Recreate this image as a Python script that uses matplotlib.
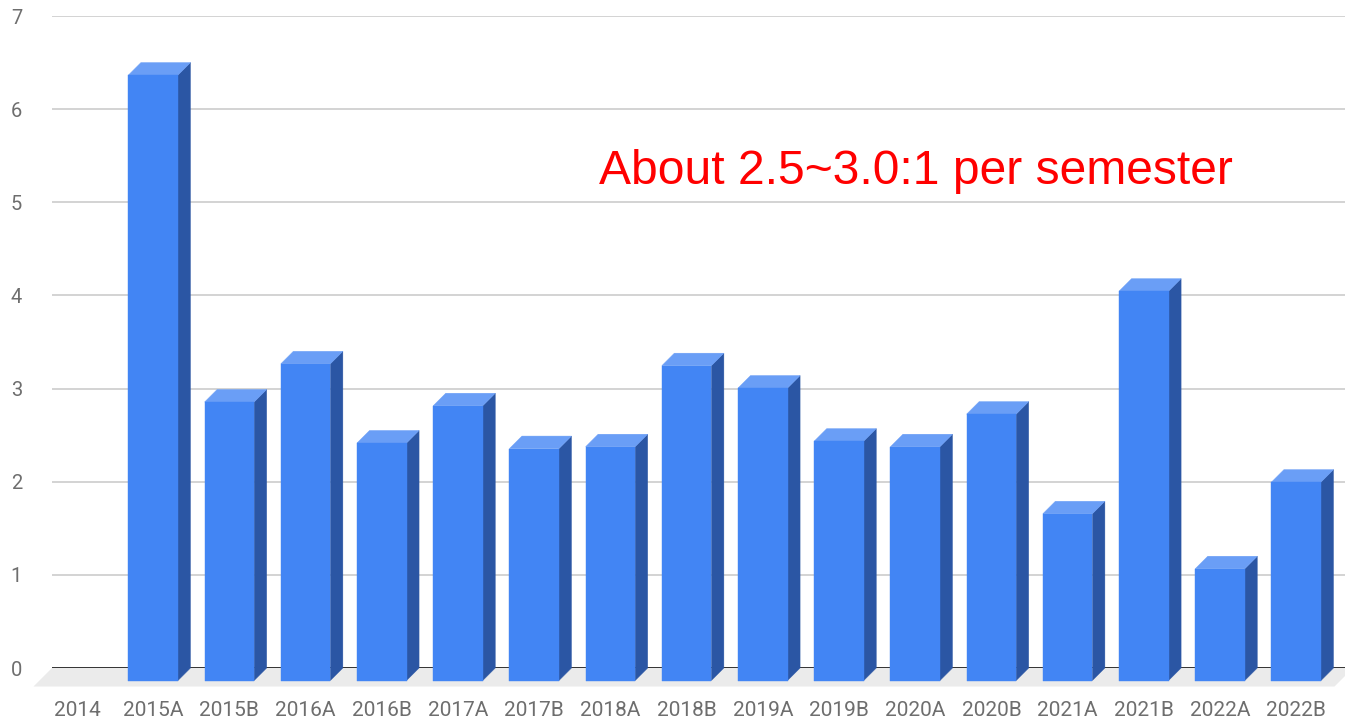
import numpy as np
import matplotlib
matplotlib.use("Agg")
import matplotlib.pyplot as plt
from matplotlib.patches import Polygon

# data
categories = ["2014", "2015A", "2015B", "2016A", "2016B", "2017A", "2017B", "2018A",
              "2018B", "2019A", "2019B", "2020A", "2020B", "2021A", "2021B", "2022A", "2022B"]
values = [np.nan, 6.50, 2.99, 3.40, 2.55, 2.95, 2.49, 2.51,
          3.38, 3.14, 2.57, 2.51, 2.86, 1.79, 4.18, 1.20, 2.13]
yticks = [0, 1, 2, 3, 4, 5, 6, 7]
note = "About 2.5~3.0:1 per semester"

front_col = "#4285F4"
top_col = "#6A9EF6"
side_col = "#2B56A4"

fig = plt.figure(figsize=(13.45, 7.18), dpi=100)
ax = fig.add_axes([52 / 1345, 50 / 718, 1293 / 1345, 652 / 718])
ax.set_xlim(-0.328, 16.64)
ax.set_ylim(0, 7)

# pixel -> data conversion for the 3d depth offset
p0 = ax.transData.transform((0, 0))
p1 = ax.transData.transform((1, 1))
sx = p1[0] - p0[0]
sy = p1[1] - p0[1]
ox = 12.5 / sx
oy = 12.5 / sy

# floor
fx = 18.5 / sx
fy = 18.5 / sy
x0, x1 = ax.get_xlim()
x1b = x1 + 8 / sx
floor = Polygon([(x0, 0), (x1b, 0), (x1b - fx, -fy), (x0 - fx, -fy)],
                closed=True, facecolor="#EBEBEB", edgecolor="none", zorder=1, clip_on=False)
ax.add_patch(floor)

ax.axhline(0, color="#333333", lw=1.4, zorder=2)

w = 0.65
for i, v in enumerate(values):
    if np.isnan(v):
        continue
    l = i - w / 2
    r = i + w / 2
    front = Polygon([(l, -oy), (r, -oy), (r, v - oy), (l, v - oy)], closed=True,
                    facecolor=front_col, edgecolor=front_col, lw=0.3, zorder=4, clip_on=False)
    top = Polygon([(l, v - oy), (r, v - oy), (r + ox, v), (l + ox, v)], closed=True,
                  facecolor=top_col, edgecolor=top_col, lw=0.3, zorder=3, clip_on=False)
    side = Polygon([(r, -oy), (r, v - oy), (r + ox, v), (r + ox, 0)], closed=True,
                   facecolor=side_col, edgecolor=side_col, lw=0.3, zorder=3, clip_on=False)
    ax.add_patch(side)
    ax.add_patch(top)
    ax.add_patch(front)

ax.set_yticks(yticks)
ax.set_yticklabels([str(t) for t in yticks])
ax.set_xticks(range(len(categories)))
ax.set_xticklabels(categories)
ax.yaxis.grid(True, color="#D0D0D0", lw=1.3, zorder=0)
ax.set_axisbelow(True)
ax.tick_params(axis="y", length=0, pad=21.5, labelsize=14.5, labelcolor="#6E6E6E")
ax.tick_params(axis="x", length=0, pad=24, labelsize=15, labelcolor="#6E6E6E")
for lab in ax.get_xticklabels() + ax.get_yticklabels():
    lab.set_fontfamily("Roboto")
for s in ax.spines.values():
    s.set_visible(False)

ax.text(6.85, (668 - 184) / sy, note, color="red", fontsize=34.6,
        fontfamily="Liberation Sans", ha="left", va="baseline")

fig.savefig("out.png", dpi=100)
